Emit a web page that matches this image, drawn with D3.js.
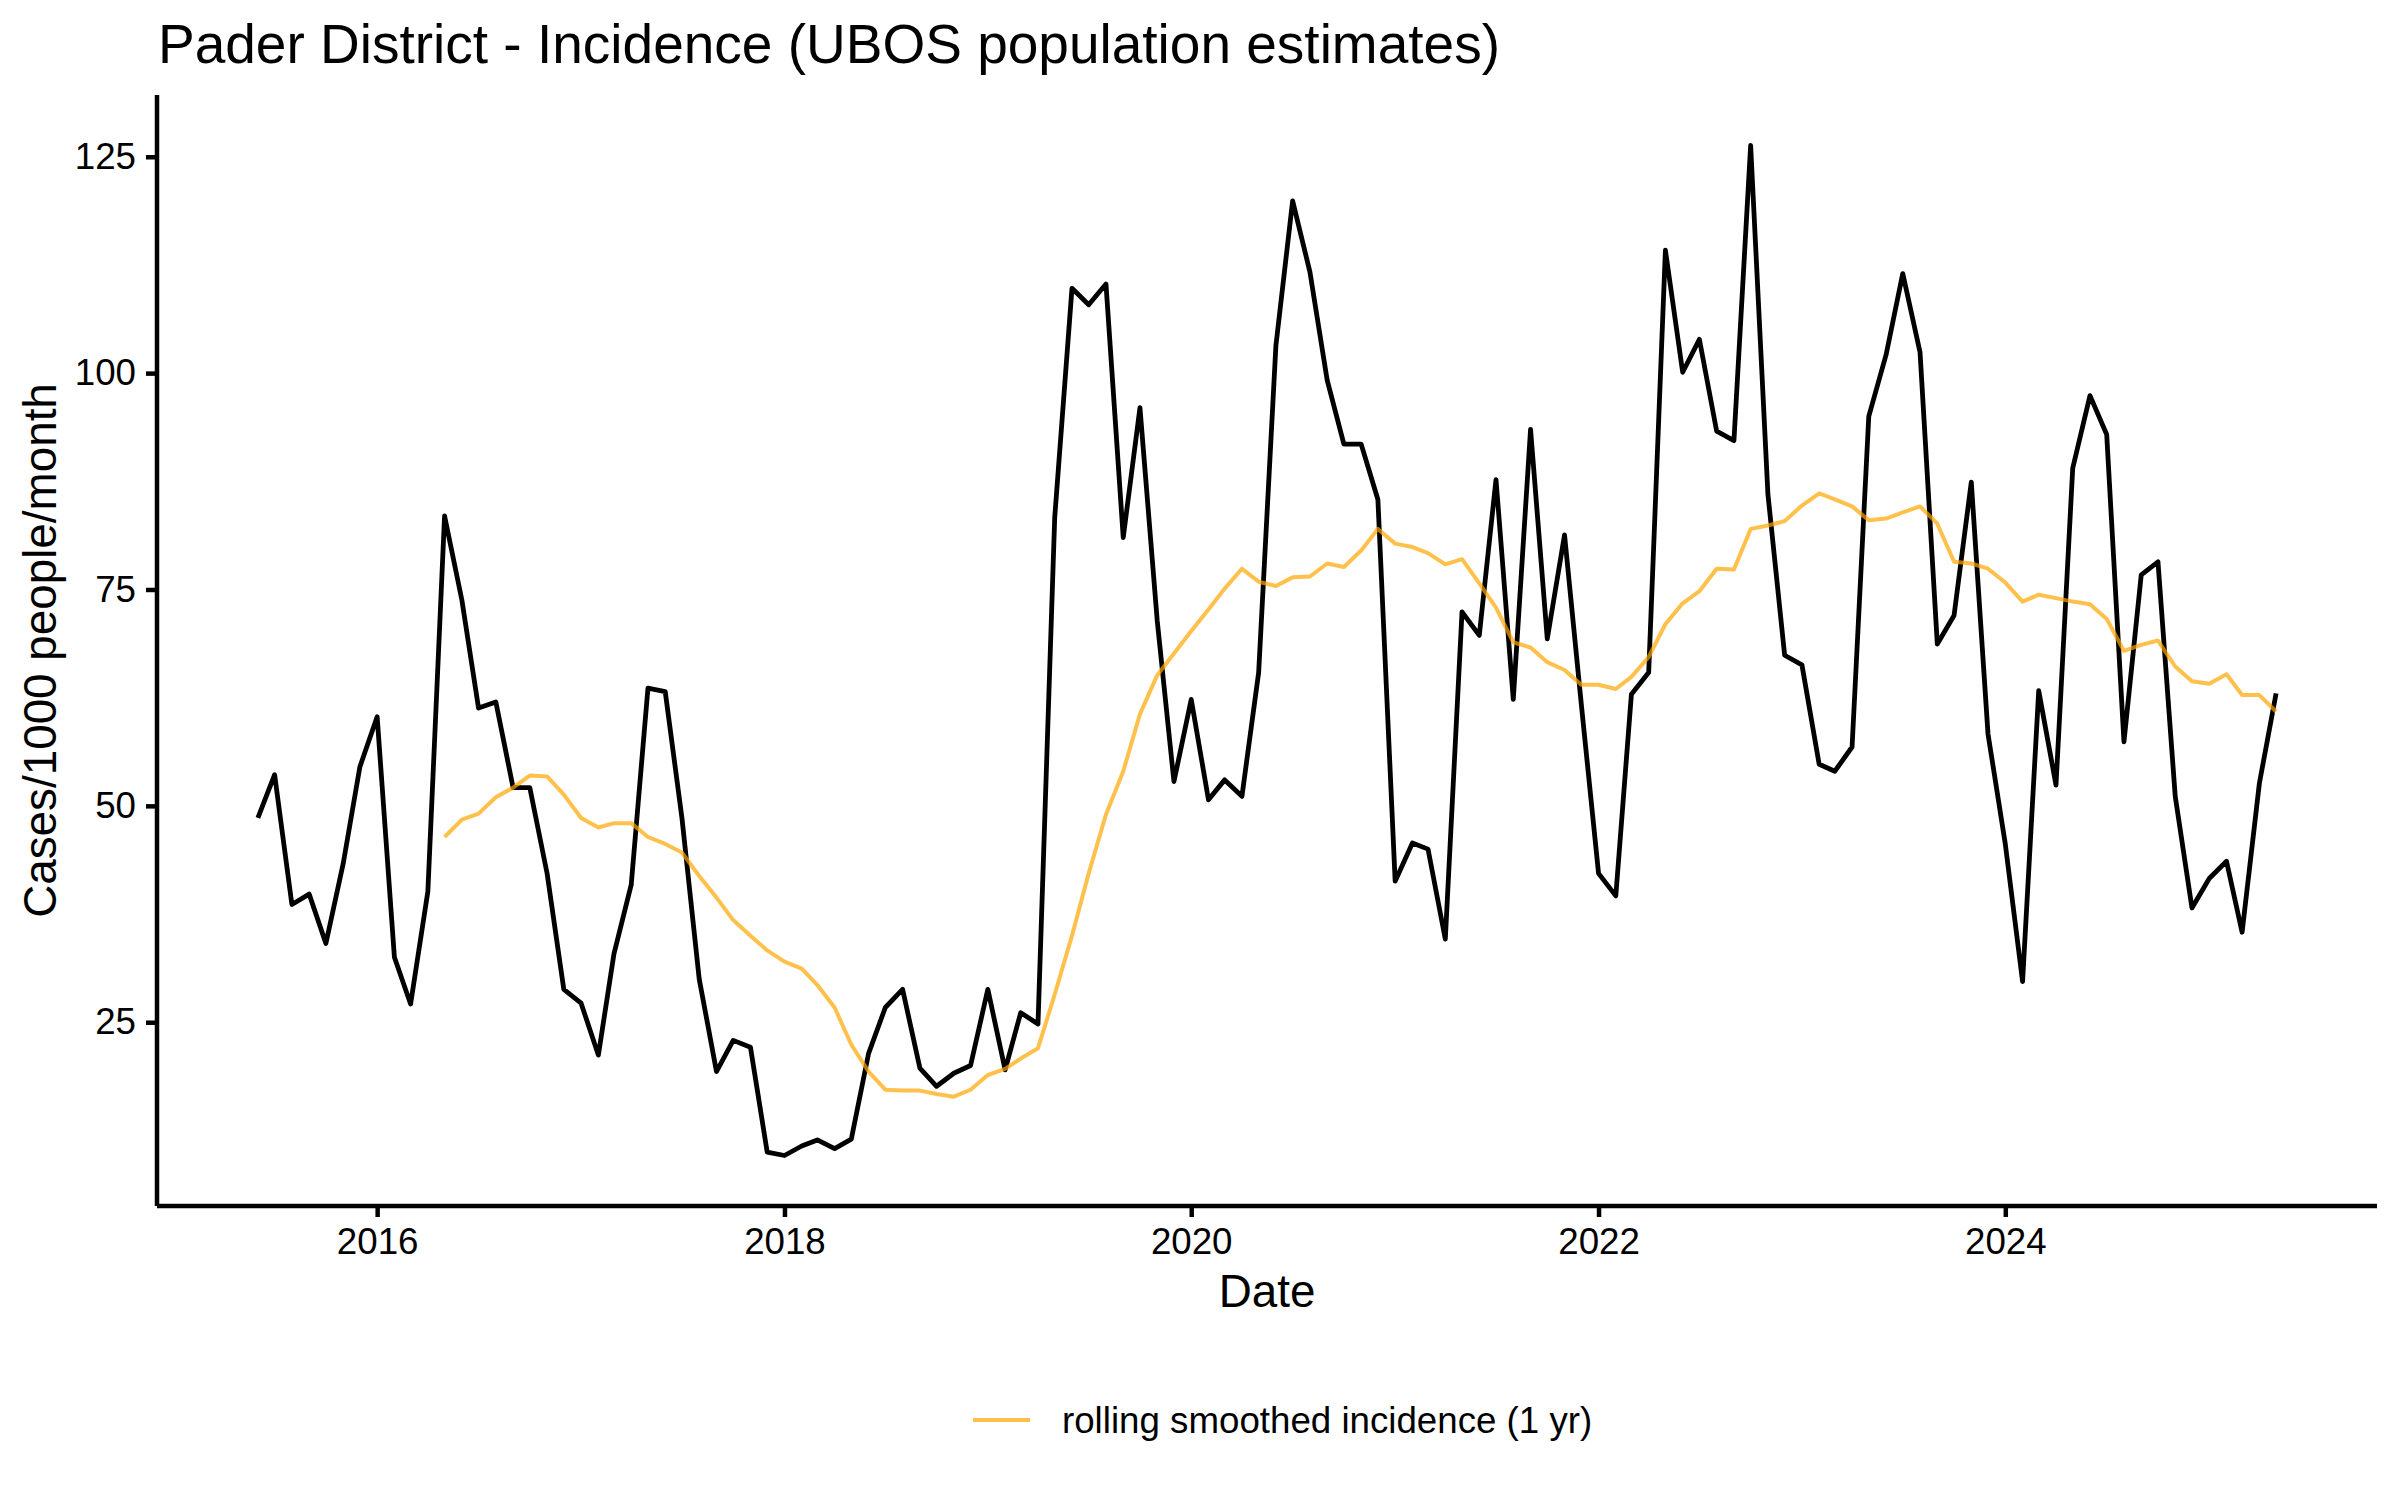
<!DOCTYPE html>
<html>
<head>
<meta charset="utf-8">
<script src="https://cdn.jsdelivr.net/npm/d3@7"></script>
<style>
  body { margin: 0; background: #fff; }
  text { font-family: "Liberation Sans", Arial, Helvetica, sans-serif; fill: #000; }
</style>
</head>
<body>
<svg id="chart" width="2400" height="1500"></svg>
<script>
// monthly series, first month Jun 2015, last month May 2025
const firstMonth = "2015-06-01";
const lastMonth = "2025-05-01";

// incidence, cases/1000 people/month
const incidence = [
    48.6, 53.6, 38.6, 39.8, 34.1, 43.3, 54.5, 60.3, 32.5, 27.1, 40.1, 83.5,
    73.8, 61.3, 62.0, 52.1, 52.1, 42.2, 28.8, 27.2, 21.2, 32.9, 40.9, 63.6,
    63.2, 48.6, 30.0, 19.3, 22.9, 22.1, 10.0, 9.6, 10.7, 11.4, 10.4, 11.5,
    21.4, 26.7, 28.8, 19.7, 17.6, 19.1, 20.0, 28.8, 19.5, 26.1, 24.8, 83.3,
    109.8, 107.9, 110.3, 81.0, 96.0, 71.4, 52.8, 62.3, 50.7, 53.0, 51.1, 65.4,
    103.2, 119.9, 111.7, 99.2, 91.8, 91.8, 85.4, 41.3, 45.7, 45.0, 34.6, 72.4,
    69.7, 87.7, 62.3, 93.5, 69.3, 81.3, 61.8, 42.2, 39.6, 62.9, 65.4, 114.2,
    100.1, 103.9, 93.3, 92.2, 126.3, 86.0, 67.4, 66.3, 54.8, 54.0, 56.8, 95.0,
    102.1, 111.5, 102.4, 68.7, 72.0, 87.4, 58.3, 45.6, 29.7, 63.3, 52.4, 89.0,
    97.4, 92.9, 57.4, 76.7, 78.2, 51.1, 38.2, 41.6, 43.6, 35.4, 52.6, 63.0
];

// rolling 1 yr smoothed incidence, starts May 2016
const smoothStart = "2016-05-01";
const smoothed = [
    46.4, 48.4, 49.1, 51.0, 52.1, 53.5, 53.4, 51.3,
    48.6, 47.5, 48.0, 48.0, 46.4, 45.6, 44.6, 41.9, 39.4, 36.8, 35.0, 33.3,
    32.0, 31.2, 29.3, 26.7, 22.4, 19.3, 17.2, 17.1, 17.1, 16.7, 16.4, 17.2,
    18.9, 19.6, 20.8, 22.0, 28.2, 35.0, 42.2, 49.0, 54.0, 60.6, 65.1, 67.6,
    70.2, 72.7, 75.1, 77.4, 75.9, 75.4, 76.4, 76.5, 78.0, 77.6, 79.5, 82.0,
    80.3, 79.9, 79.2, 77.9, 78.5, 75.7, 72.9, 68.9, 68.3, 66.6, 65.7, 64.0,
    64.0, 63.5, 64.9, 67.2, 71.0, 73.4, 74.8, 77.4, 77.3, 82.0, 82.4, 82.9,
    84.7, 86.1, 85.4, 84.6, 83.0, 83.2, 83.9, 84.6, 82.6, 78.2, 78.0, 77.4,
    75.8, 73.6, 74.4, 74.0, 73.6, 73.3, 71.6, 67.9, 68.6, 69.1, 66.1, 64.4,
    64.1, 65.2, 62.8, 62.8, 60.9
];

const yTicks = [25, 50, 75, 100, 125];
const xTickYears = [2016, 2018, 2020, 2022, 2024];

const titleText = "Pader District - Incidence (UBOS population estimates)";
const xLabel = "Date";
const yLabel = "Cases/1000 people/month";
const legendLabel = "rolling smoothed incidence (1 yr)";

var parse = d3.timeParse("%Y-%m-%d");
var months = d3.timeMonth.range(parse(firstMonth), d3.timeMonth.offset(parse(lastMonth), 1));
var mainData = incidence.map(function (v, i) { return { date: months[i], value: v }; });
var smoothMonths = d3.timeMonth.range(parse(smoothStart), d3.timeMonth.offset(parse(lastMonth), 1));
var smoothData = smoothed.map(function (v, i) { return { date: smoothMonths[i], value: v }; });

var svg = d3.select("#chart");
var panel = { left: 157, right: 2377, top: 95, bottom: 1206 };

// ggplot style 5% expansion
var xExt = d3.extent(months);
var xPad = (xExt[1] - xExt[0]) * 0.05;
var x = d3.scaleTime()
    .domain([new Date(+xExt[0] - xPad), new Date(+xExt[1] + xPad)])
    .range([panel.left, panel.right]);

var yExt = d3.extent(incidence.concat(smoothed));
var yPad = (yExt[1] - yExt[0]) * 0.05;
var y = d3.scaleLinear()
    .domain([yExt[0] - yPad, yExt[1] + yPad])
    .range([panel.bottom, panel.top]);

// title
svg.append("text")
    .attr("x", panel.left + 1)
    .attr("y", 63)
    .style("font-size", "55px")
    .text(titleText);

// axes
var xAxis = svg.append("g")
    .attr("transform", "translate(0," + panel.bottom + ")")
    .call(d3.axisBottom(x)
        .tickValues(xTickYears.map(function (yr) { return new Date(yr, 0, 1); }))
        .tickFormat(d3.timeFormat("%Y"))
        .tickSize(11).tickPadding(11));

var yAxis = svg.append("g")
    .attr("transform", "translate(" + panel.left + ",0)")
    .call(d3.axisLeft(y).tickValues(yTicks).tickSize(11).tickPadding(10));

[xAxis, yAxis].forEach(function (ax) {
    ax.select(".domain").attr("stroke", "#000").attr("stroke-width", 4.5);
    ax.selectAll(".tick line").attr("stroke", "#000").attr("stroke-width", 4.5);
    ax.selectAll(".tick text")
        .attr("fill", "#000")
        .style("font-family", "'Liberation Sans', Arial, Helvetica, sans-serif")
        .style("font-size", "36.7px");
});
// draw domain without end ticks
xAxis.select(".domain").attr("d", "M" + panel.left + ",0H" + panel.right);
yAxis.select(".domain").attr("d", "M0," + panel.bottom + "V" + panel.top);

// lines
var line = d3.line()
    .x(function (d) { return x(d.date); })
    .y(function (d) { return y(d.value); });

svg.append("path")
    .datum(mainData)
    .attr("fill", "none")
    .attr("stroke", "#000")
    .attr("stroke-width", 4.8)
    .attr("stroke-linejoin", "round")
    .attr("d", line);

svg.append("path")
    .datum(smoothData)
    .attr("fill", "none")
    .attr("stroke", "#FFA500")
    .attr("stroke-opacity", 0.7)
    .attr("stroke-width", 4)
    .attr("stroke-linejoin", "round")
    .attr("d", line);

// axis titles
svg.append("text")
    .attr("x", (panel.left + panel.right) / 2)
    .attr("y", 1307)
    .attr("text-anchor", "middle")
    .style("font-size", "45.8px")
    .text(xLabel);

svg.append("text")
    .attr("transform", "translate(56," + (panel.top + panel.bottom) / 2 + ")rotate(-90)")
    .attr("text-anchor", "middle")
    .style("font-size", "45.8px")
    .text(yLabel);

// legend
var legend = svg.append("g").attr("transform", "translate(973,1420)");
legend.append("line")
    .attr("x1", 0).attr("x2", 57)
    .attr("stroke", "#FFA500")
    .attr("stroke-opacity", 0.7)
    .attr("stroke-width", 4.2);
legend.append("text")
    .attr("x", 89)
    .attr("y", 13)
    .style("font-size", "36.7px")
    .text(legendLabel);
</script>
</body>
</html>
